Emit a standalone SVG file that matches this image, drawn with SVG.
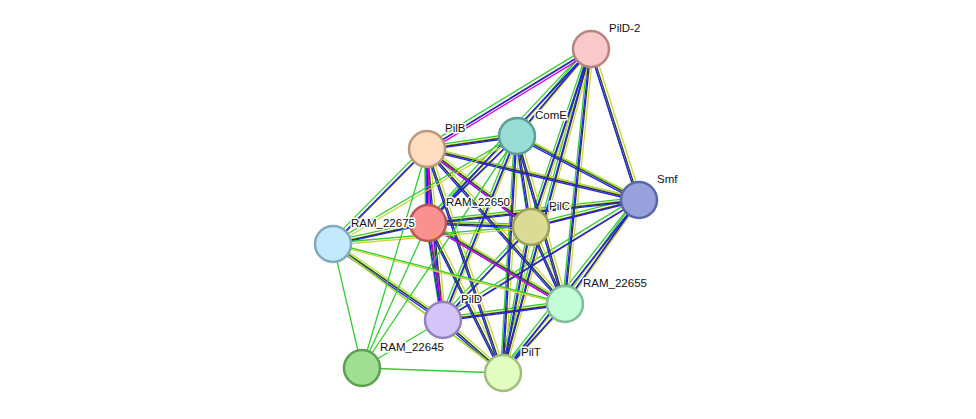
<svg xmlns="http://www.w3.org/2000/svg" xmlns:xlink="http://www.w3.org/1999/xlink" width="976" height="419" viewBox="0 0 976 419">
<style>
.n{stroke-width:2.5}
text{font-family:"Liberation Sans",Arial,sans-serif;font-size:11.5px;fill:#111;stroke:#fff;stroke-width:3;paint-order:stroke;stroke-linejoin:round}
line{stroke-width:1.3}
</style>
<defs>
<g id="rich">
<line x1="591" y1="49" x2="427" y2="149"/><line x1="591" y1="49" x2="517" y2="136"/><line x1="591" y1="49" x2="531" y2="227"/><line x1="591" y1="49" x2="565" y2="304"/><line x1="591" y1="49" x2="639" y2="200"/><line x1="591" y1="49" x2="503" y2="373"/><line x1="591" y1="49" x2="428" y2="223"/>
<line x1="427" y1="149" x2="517" y2="136"/><line x1="427" y1="149" x2="639" y2="200"/><line x1="427" y1="149" x2="531" y2="227"/><line x1="427" y1="149" x2="428" y2="223"/><line x1="427" y1="149" x2="443" y2="320"/><line x1="427" y1="149" x2="503" y2="373"/><line x1="427" y1="149" x2="565" y2="304"/><line x1="427" y1="149" x2="333" y2="244"/>
<line x1="517" y1="136" x2="639" y2="200"/><line x1="517" y1="136" x2="531" y2="227"/><line x1="517" y1="136" x2="428" y2="223"/><line x1="517" y1="136" x2="443" y2="320"/><line x1="517" y1="136" x2="503" y2="373"/><line x1="517" y1="136" x2="565" y2="304"/>
<line x1="639" y1="200" x2="531" y2="227"/><line x1="639" y1="200" x2="428" y2="223"/><line x1="639" y1="200" x2="565" y2="304"/><line x1="639" y1="200" x2="503" y2="373"/><line x1="639" y1="200" x2="443" y2="320"/>
<line x1="531" y1="227" x2="428" y2="223"/><line x1="531" y1="227" x2="443" y2="320"/><line x1="531" y1="227" x2="503" y2="373"/><line x1="531" y1="227" x2="565" y2="304"/>
<line x1="428" y1="223" x2="443" y2="320"/><line x1="428" y1="223" x2="503" y2="373"/><line x1="428" y1="223" x2="333" y2="244"/><line x1="428" y1="223" x2="565" y2="304"/>
<line x1="443" y1="320" x2="503" y2="373"/><line x1="443" y1="320" x2="565" y2="304"/><line x1="503" y1="373" x2="565" y2="304"/><line x1="333" y1="244" x2="443" y2="320"/>
</g>
<g id="sparse">
<line x1="333" y1="244" x2="531" y2="227"/><line x1="333" y1="244" x2="503" y2="373"/><line x1="333" y1="244" x2="565" y2="304"/><line x1="333" y1="244" x2="517" y2="136"/>
</g>
<g id="mag">
<line x1="591" y1="49" x2="427" y2="149"/><line x1="427" y1="149" x2="531" y2="227"/><line x1="427" y1="149" x2="428" y2="223"/><line x1="428" y1="223" x2="443" y2="320"/><line x1="428" y1="223" x2="565" y2="304"/>
</g>
</defs>
<g id="connectors">
<use href="#rich" stroke="#3c3" transform="translate(-2.4,-2.4)"/>
<use href="#rich" stroke="#c8d83a" transform="translate(2.4,-1.2)"/>
<use href="#rich" stroke="#333" transform="translate(0,0)"/>
<use href="#rich" stroke="#22e" transform="translate(-1.2,1.2)"/>
<use href="#mag" stroke="#d0d" transform="translate(1.2,2.4)"/>
<use href="#sparse" stroke="#3c3" transform="translate(-1,-1)"/>
<use href="#sparse" stroke="#c8d83a" transform="translate(1,1)"/>
<g stroke="#3c3">
<line x1="362" y1="368" x2="443" y2="320"/><line x1="362" y1="368" x2="503" y2="373"/><line x1="362" y1="368" x2="333" y2="244"/><line x1="362" y1="368" x2="427" y2="149"/><line x1="362" y1="368" x2="428" y2="223"/><line x1="362" y1="368" x2="517" y2="136"/>
</g>
</g>
<g id="PilD-2"><circle class="n" cx="591" cy="49" r="18" fill="#f9c8c8" stroke="#b98484"/><text x="609" y="32">PilD-2</text></g>
<g id="ComE"><circle class="n" cx="517" cy="136" r="18" fill="#97ddd3" stroke="#5a9e94"/><text x="535" y="119">ComE</text></g>
<g id="PilB"><circle class="n" cx="427" cy="149" r="18" fill="#fddcbf" stroke="#b9997a"/><text x="445" y="132">PilB</text></g>
<g id="Smf"><circle class="n" cx="639" cy="200" r="18" fill="#97a2dc" stroke="#5a66a6"/><text x="657" y="183">Smf</text></g>
<g id="RAM_22650"><circle class="n" cx="428" cy="223" r="18" fill="#f99191" stroke="#b85757"/><text x="446" y="206">RAM_22650</text></g>
<g id="PilC"><circle class="n" cx="531" cy="227" r="18" fill="#dcdb95" stroke="#a09f5a"/><text x="549" y="210">PilC</text></g>
<g id="RAM_22675"><circle class="n" cx="333" cy="244" r="18" fill="#c2e9fc" stroke="#82a9c0"/><text x="351" y="227">RAM_22675</text></g>
<g id="RAM_22655"><circle class="n" cx="565" cy="304" r="18" fill="#c2fdd8" stroke="#82bd98"/><text x="583" y="287">RAM_22655</text></g>
<g id="PilD"><circle class="n" cx="443" cy="320" r="18" fill="#d4c4fb" stroke="#9484bb"/><text x="461" y="303">PilD</text></g>
<g id="RAM_22645"><circle class="n" cx="362" cy="368" r="18" fill="#9edf92" stroke="#5e9f52"/><text x="380" y="351">RAM_22645</text></g>
<g id="PilT"><circle class="n" cx="503" cy="373" r="18" fill="#e1fdbf" stroke="#a1bd7f"/><text x="521" y="356">PilT</text></g>
</svg>
